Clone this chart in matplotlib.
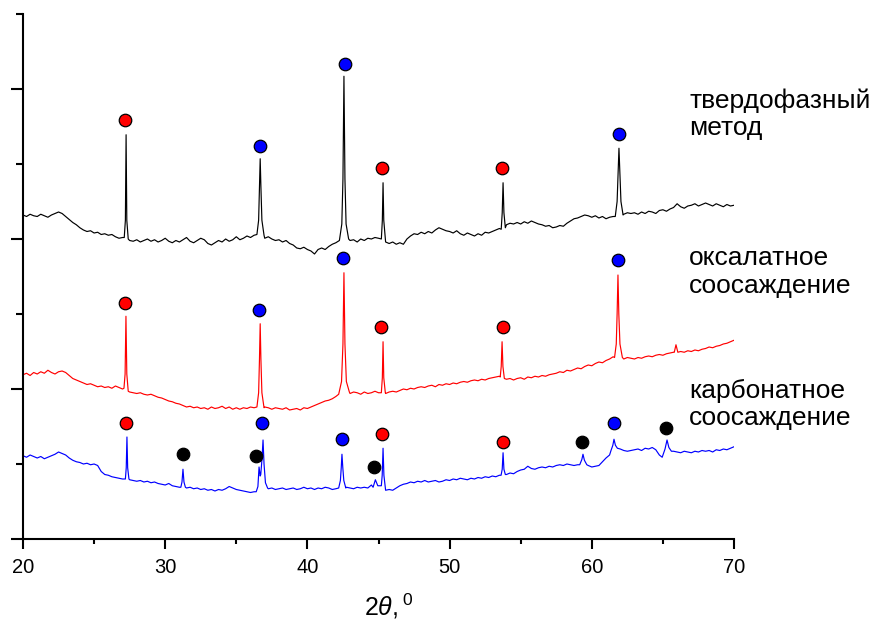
import numpy as np
import matplotlib
matplotlib.use('Agg')
import matplotlib.pyplot as plt

plt.rcParams['font.family'] = ['Liberation Sans', 'DejaVu Sans']
plt.rcParams['mathtext.fontset'] = 'custom'
plt.rcParams['mathtext.it'] = 'Liberation Sans:italic'
plt.rcParams['mathtext.rm'] = 'Liberation Sans'

# ---------------- data ----------------
grid_start = 20.0
grid_step = 0.25

# baseline intensities (a.u.) sampled every 0.25 deg from 20 to 70
black_base = [
    4.32, 4.30, 4.33, 4.31,  4.30, 4.33, 4.31, 4.29,  4.32, 4.34, 4.36, 4.34,
    4.30, 4.26, 4.22, 4.19,  4.15, 4.12, 4.10, 4.11,  4.08, 4.09, 4.06, 4.07,
    4.05, 4.06, 4.03, 4.01,  4.02, 4.00, 3.98, 3.97,  3.99, 3.96, 3.98, 4.00,
    3.97, 3.99, 3.96, 3.98,  4.01, 3.97, 3.95, 3.98,  3.96, 3.99, 4.02, 3.97,
    3.95, 3.98, 4.01, 3.99,  3.94, 3.92, 3.95, 3.98,  3.96, 4.00, 3.97, 3.99,
    4.03, 3.99, 4.01, 4.04,  4.02, 4.05, 4.06, 4.03,  4.01, 4.03, 4.00, 3.98,
    3.99, 3.96, 3.98, 3.94,  3.92, 3.88, 3.87, 3.89,  3.86, 3.84, 3.80, 3.86,
    3.88, 3.86, 3.90, 3.93,  3.95, 3.97, 4.00, 3.99,  3.98, 3.99, 3.96, 4.00,
    3.98, 4.01, 4.00, 4.02,  4.01, 3.99, 3.96, 3.94,  3.96, 3.93, 3.95, 3.93,
    4.00, 4.04, 4.07, 4.06,  4.09, 4.07, 4.10, 4.08,  4.12, 4.15, 4.13, 4.11,
    4.10, 4.08, 4.11, 4.07,  4.05, 4.08, 4.06, 4.04,  4.07, 4.05, 4.09, 4.08,
    4.10, 4.12, 4.14, 4.17,  4.19, 4.21, 4.20, 4.22,  4.20, 4.23, 4.21, 4.24,
    4.22, 4.20, 4.19, 4.17,  4.18, 4.15, 4.16, 4.18,  4.17, 4.21, 4.24, 4.27,
    4.28, 4.30, 4.32, 4.31,  4.29, 4.31, 4.28, 4.30,  4.27, 4.29, 4.30, 4.33,
    4.31, 4.33, 4.35, 4.34,  4.35, 4.33, 4.36, 4.34,  4.37, 4.36, 4.34, 4.38,
    4.39, 4.37, 4.40, 4.42,  4.47, 4.43, 4.41, 4.44,  4.45, 4.47, 4.44, 4.46,
    4.48, 4.46, 4.44, 4.47,  4.45, 4.43, 4.46, 4.44,  4.45,
]
red_base = [
    2.19, 2.21, 2.18, 2.22,  2.20, 2.23, 2.21, 2.25,  2.22, 2.20, 2.23, 2.24,
    2.22, 2.18, 2.14, 2.12,  2.10, 2.08, 2.06, 2.07,  2.05, 2.03, 2.04, 2.02,
    2.03, 2.01, 2.04, 2.02,  2.00, 1.98, 1.96, 1.95,  1.94, 1.95, 1.93, 1.92,
    1.93, 1.91, 1.89, 1.88,  1.86, 1.84, 1.83, 1.81,  1.80, 1.78, 1.76, 1.77,
    1.75, 1.76, 1.74, 1.75,  1.73, 1.76, 1.74, 1.75,  1.77, 1.74, 1.76, 1.73,
    1.75, 1.73, 1.75, 1.74,  1.76, 1.75, 1.75, 1.74,  1.76, 1.75, 1.73, 1.75,
    1.74, 1.73, 1.75, 1.72,  1.73, 1.74, 1.72, 1.75,  1.74, 1.76, 1.78, 1.80,
    1.82, 1.84, 1.85, 1.87,  1.90, 1.92, 1.94, 1.95,  1.94, 1.96, 1.95, 1.93,
    1.96, 1.94, 1.95, 1.97,  1.95, 1.94, 1.94, 1.96,  1.97, 1.96, 1.98, 2.00,
    1.99, 2.01, 2.00, 2.02,  2.03, 2.02, 2.04, 2.05,  2.03, 2.06, 2.05, 2.07,
    2.06, 2.08, 2.07, 2.09,  2.10, 2.09, 2.11, 2.12,  2.11, 2.13, 2.12, 2.14,
    2.15, 2.16, 2.17, 2.15,  2.13, 2.14, 2.12, 2.14,  2.15, 2.13, 2.16, 2.15,
    2.17, 2.16, 2.18, 2.17,  2.19, 2.20, 2.21, 2.23,  2.22, 2.25, 2.24, 2.26,
    2.28, 2.27, 2.30, 2.32,  2.31, 2.34, 2.36, 2.35,  2.38, 2.40, 2.43, 2.42,
    2.41, 2.40, 2.42, 2.41,  2.40, 2.42, 2.41, 2.43,  2.44, 2.43, 2.45, 2.46,
    2.45, 2.47, 2.48, 2.49,  2.48, 2.50, 2.49, 2.51,  2.50, 2.52, 2.51, 2.53,
    2.54, 2.56, 2.55, 2.57,  2.58, 2.60, 2.61, 2.63,  2.65,
]
blue_base = [
    1.11, 1.09, 1.12, 1.10,  1.08, 1.10, 1.07, 1.09,  1.11, 1.13, 1.16, 1.14,
    1.12, 1.08, 1.05, 1.03,  1.02, 1.00, 1.01, 0.99,  1.00, 0.98, 0.90, 0.86,
    0.85, 0.83, 0.82, 0.81,  0.80, 0.80, 0.79, 0.78,  0.77, 0.78, 0.76, 0.77,
    0.75, 0.76, 0.74, 0.73,  0.72, 0.74, 0.71, 0.70,  0.69, 0.70, 0.68, 0.69,
    0.67, 0.68, 0.66, 0.67,  0.65, 0.66, 0.64, 0.66,  0.65, 0.67, 0.70, 0.68,
    0.66, 0.65, 0.64, 0.63,  0.62, 0.63, 0.64, 0.66,  0.68, 0.67, 0.68, 0.66,
    0.67, 0.68, 0.66, 0.67,  0.68, 0.66, 0.67, 0.69,  0.67, 0.68, 0.66, 0.68,
    0.67, 0.69, 0.68, 0.66,  0.67, 0.68, 0.68, 0.69,  0.68, 0.67, 0.69, 0.68,
    0.69, 0.68, 0.72, 0.70,  0.71, 0.68, 0.65, 0.66,  0.65, 0.68, 0.71, 0.73,
    0.74, 0.76, 0.75, 0.77,  0.76, 0.78, 0.76, 0.77,  0.78, 0.76, 0.77, 0.79,
    0.78, 0.80, 0.79, 0.81,  0.80, 0.79, 0.81, 0.80,  0.82, 0.81, 0.83, 0.82,
    0.84, 0.83, 0.85, 0.85,  0.86, 0.88, 0.87, 0.90,  0.92, 0.93, 0.97, 0.94,
    0.93, 0.95, 0.96, 0.95,  0.97, 0.96, 0.98, 0.99,  0.98, 1.00, 0.99, 0.98,
    0.99, 0.99, 0.99, 0.98,  0.96, 0.97, 0.98, 1.03,  1.08, 1.12, 1.17, 1.22,
    1.20, 1.18, 1.17, 1.18,  1.19, 1.20, 1.18, 1.21,  1.20, 1.22, 1.19, 1.12,
    1.10, 1.16, 1.18, 1.17,  1.16, 1.15, 1.17, 1.16,  1.15, 1.17, 1.16, 1.18,
    1.17, 1.18, 1.16, 1.19,  1.18, 1.20, 1.19, 1.21,  1.23,
]

# diffraction peaks (2theta, intensity) for each pattern
black_peak_x = [
    [27.12, 27.20, 27.25, 27.30, 27.40],
    [36.45, 36.57, 36.63, 36.68, 36.73, 36.80, 36.95],
    [42.25, 42.42, 42.50, 42.57, 42.64, 42.72, 42.90],
    [45.20, 45.27, 45.32, 45.37, 45.48],
    [53.63, 53.70, 53.76, 53.82, 53.92],
    [61.65, 61.78, 61.85, 61.91, 61.97, 62.05, 62.20],
]
black_peak_y = [
    [4.02, 4.25, 5.39, 4.25, 4.00],
    [4.06, 4.25, 4.70, 5.07, 4.70, 4.25, 4.05],
    [3.98, 4.20, 4.80, 6.17, 4.80, 4.20, 4.00],
    [4.00, 4.25, 4.75, 4.25, 3.99],
    [4.13, 4.35, 4.75, 4.35, 4.15],
    [4.30, 4.50, 4.90, 5.21, 4.90, 4.50, 4.32],
]
red_peak_x = [
    [27.10, 27.18, 27.24, 27.30, 27.40],
    [36.45, 36.57, 36.63, 36.68, 36.73, 36.80, 36.95],
    [42.20, 42.40, 42.50, 42.57, 42.64, 42.74, 42.95],
    [45.20, 45.27, 45.32, 45.37, 45.48],
    [53.56, 53.63, 53.69, 53.75, 53.85],
    [61.60, 61.72, 61.78, 61.84, 61.90, 61.98, 62.15],
    [65.80, 65.92, 66.05],
]
red_peak_y = [
    [2.01, 2.20, 2.97, 2.20, 1.97],
    [1.76, 1.95, 2.40, 2.87, 2.40, 1.95, 1.75],
    [1.93, 2.10, 2.60, 3.55, 2.60, 2.10, 1.96],
    [1.95, 2.15, 2.63, 2.15, 1.95],
    [2.16, 2.30, 2.63, 2.30, 2.14],
    [2.42, 2.60, 3.00, 3.52, 3.00, 2.60, 2.42],
    [2.49, 2.59, 2.49],
]
blue_peak_x = [
    [27.20, 27.26, 27.31, 27.36, 27.45],
    [31.10, 31.18, 31.25, 31.32, 31.42],
    [36.40, 36.52, 36.60, 36.68, 36.72, 36.80, 36.88, 36.95, 37.05, 37.20],
    [42.20, 42.32, 42.38, 42.43, 42.49, 42.56, 42.70],
    [44.62, 44.78, 44.95],
    [45.20, 45.26, 45.32, 45.38, 45.48],
    [53.62, 53.70, 53.76, 53.82, 53.92],
    [59.15, 59.30, 59.38, 59.48, 59.65],
    [61.35, 61.48, 61.56, 61.66, 61.80],
    [64.95, 65.15, 65.29, 65.42, 65.60],
]
blue_peak_y = [
    [0.80, 0.95, 1.36, 0.95, 0.80],
    [0.69, 0.76, 0.93, 0.76, 0.69],
    [0.63, 0.70, 0.96, 0.84, 0.86, 1.05, 1.32, 1.00, 0.75, 0.68],
    [0.68, 0.78, 0.95, 1.13, 0.95, 0.78, 0.68],
    [0.69, 0.79, 0.71],
    [0.71, 0.85, 1.21, 0.85, 0.68],
    [0.85, 0.93, 1.15, 0.93, 0.86],
    [0.99, 1.06, 1.13, 1.05, 0.99],
    [1.18, 1.25, 1.33, 1.25, 1.21],
    [1.09, 1.20, 1.32, 1.22, 1.17],
]

# phase markers
red_dot_x = [27.17, 45.25, 53.68, 27.17, 45.18, 53.76, 27.24, 45.25, 53.76]
red_dot_y = [5.59, 4.95, 4.95, 3.15, 2.83, 2.83, 1.55, 1.40, 1.29]
blue_dot_x = [36.67, 42.64, 61.91, 36.60, 42.50, 61.84, 36.81, 42.43, 61.56]
blue_dot_y = [5.24, 6.33, 5.40, 3.05, 3.75, 3.72, 1.55, 1.33, 1.55]
black_dot_x = [31.25, 36.39, 44.68, 59.31, 65.22]
black_dot_y = [1.13, 1.11, 0.96, 1.29, 1.48]

x_ticks = [20, 30, 40, 50, 60, 70]
x_minor = [25, 35, 45, 55, 65]

labels = [
    ('твердофазный', 'метод'),
    ('оксалатное', 'соосаждение'),
    ('карбонатное', 'соосаждение'),
]


def build_trace(base, peak_x, peak_y):
    bx = grid_start + grid_step * np.arange(len(base))
    by = np.asarray(base, dtype=float)
    keep = np.ones(len(bx), dtype=bool)
    for px in peak_x:
        keep &= ~((bx >= min(px)) & (bx <= max(px)))
    xs = list(bx[keep])
    ys = list(by[keep])
    for px, py in zip(peak_x, peak_y):
        xs.extend(px)
        ys.extend(py)
    order = np.argsort(xs, kind='stable')
    return np.asarray(xs)[order], np.asarray(ys)[order]


# ---------------- figure ----------------
W, H = 871, 624
fig = plt.figure(figsize=(W / 100, H / 100), dpi=100)
ax = fig.add_axes([23 / W, 85 / H, 711 / W, 525 / H])

for base, pxs, pys, col in [
    (black_base, black_peak_x, black_peak_y, 'black'),
    (red_base, red_peak_x, red_peak_y, '#ff0000'),
    (blue_base, blue_peak_x, blue_peak_y, '#0000ff'),
]:
    tx, ty = build_trace(base, pxs, pys)
    ax.plot(tx, ty, color=col, lw=0.85, zorder=2)

mk = dict(linestyle='none', marker='o', markersize=9, markeredgecolor='black',
          markeredgewidth=0.9, zorder=4, clip_on=False)
ax.plot(red_dot_x, red_dot_y, markerfacecolor='#ff0000', **mk)
ax.plot(blue_dot_x, blue_dot_y, markerfacecolor='#0000ff', **mk)
ax.plot(black_dot_x, black_dot_y, markerfacecolor='black', **mk)

ax.set_xlim(20, 70)
ax.set_ylim(0, 7)
ax.set_xticks(x_ticks)
ax.set_xticks(x_minor, minor=True)
ax.set_yticks([0, 2, 4, 6])
ax.set_yticks([1, 3, 5, 7], minor=True)
ax.tick_params(axis='y', which='both', labelleft=False)
ax.tick_params(axis='both', which='major', direction='out', width=1.5, labelsize=14.5)
ax.tick_params(axis='x', which='major', length=7.5, pad=6)
ax.tick_params(axis='x', which='minor', direction='out', length=3.8, width=1.5)
ax.tick_params(axis='y', which='major', length=8.5)
ax.tick_params(axis='y', which='minor', direction='out', length=4.8, width=1.5)
for s in ['top', 'right']:
    ax.spines[s].set_visible(False)
for s in ['left', 'bottom']:
    ax.spines[s].set_linewidth(1.5)

ax.set_xlabel(r'$\mathit{2\theta,}^{\mathit{0}}$', fontsize=18, labelpad=13)
ax.xaxis.set_label_coords(0.515, -0.1)

baselines = [(108, 135), (265, 293), (398, 425)]
for (l1, l2), (b1, b2) in zip(labels, baselines):
    fig.text(689 / W, 1 - b1 / H, l1, fontsize=19, va='baseline', ha='left')
    fig.text(689 / W, 1 - b2 / H, l2, fontsize=19, va='baseline', ha='left')

fig.savefig('out.png', dpi=100)
